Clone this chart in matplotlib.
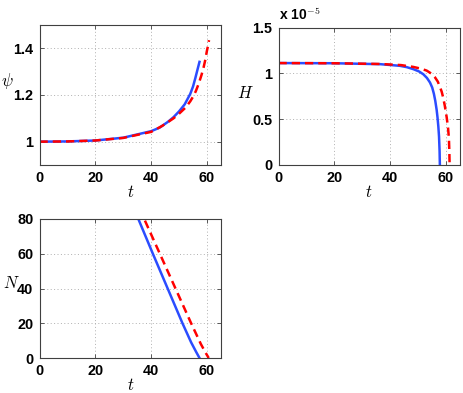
import matplotlib
matplotlib.use("Agg")
import matplotlib.pyplot as plt

plt.rcParams["mathtext.fontset"] = "cm"
plt.rcParams["font.family"] = ["Liberation Sans", "DejaVu Sans"]

# psi(t)
t_psi_blue = [0, 10, 20, 30, 40, 43, 46, 48, 50, 52, 54, 55, 55.8, 56.5, 57.3]
psi_blue = [1.0, 1.001, 1.005, 1.017, 1.045, 1.06, 1.085, 1.105, 1.13, 1.16, 1.205, 1.237, 1.272, 1.305, 1.342]
t_psi_red = [0, 10, 20, 30, 40, 44, 48, 50, 52.3, 54, 55.2, 56, 57, 58, 58.8, 59.4, 59.9, 60.5, 60.7]
psi_red = [1.0, 1.001, 1.005, 1.016, 1.042, 1.068, 1.1, 1.12, 1.146, 1.173, 1.197, 1.217, 1.248, 1.285, 1.32, 1.352, 1.386, 1.42, 1.435]

# H(t), in units of 1e-5
t_H_blue = [0, 20, 36.5, 43.6, 46, 48.4, 50.5, 52, 53.3, 54.4, 55.2, 55.8, 56.3, 56.8, 57.1, 57.4, 57.65, 57.85, 57.95]
H_blue = [1.112, 1.11, 1.1, 1.082, 1.068, 1.046, 1.02, 0.99, 0.95, 0.9, 0.845, 0.777, 0.7, 0.6, 0.52, 0.42, 0.31, 0.15, 0.0]
t_H_red = [0, 20, 36.5, 44, 48.4, 51, 53.2, 55, 56.2, 57.2, 58, 58.6, 59.1, 59.7, 60.4, 60.9, 61.2, 61.35, 61.45]
H_red = [1.112, 1.11, 1.102, 1.09, 1.07, 1.052, 1.03, 0.995, 0.956, 0.91, 0.85, 0.8, 0.74, 0.65, 0.52, 0.4, 0.29, 0.15, 0.0]

# N(t)
t_N_blue = [32, 35.4, 40.6, 45.9, 51.2, 54.3, 56.1, 57.3]
N_blue = [93, 80, 60, 40, 20, 9, 3.5, 0]
t_N_red = [33.9, 37.5, 43.1, 48.7, 54.3, 57.8, 59.5, 60.6]
N_red = [93, 80, 60, 40, 20, 8, 3, 0]

fig = plt.figure(figsize=(4.63, 3.93), dpi=100)
W, Hh = 463.0, 393.0

def make_ax(x0, y0, x1, y1):
    return fig.add_axes([x0 / W, 1 - y1 / Hh, (x1 - x0) / W, (y1 - y0) / Hh])

ax1 = make_ax(39.5, 25, 221, 165)
ax2 = make_ax(278.5, 27.5, 459.5, 165)
ax3 = make_ax(39.5, 219, 221, 358)

blue = "#2b4cff"
red = "#ff0000"
dash = (0, (3.3, 2.0))

ax1.plot(t_psi_blue, psi_blue, color=blue, lw=1.8)
ax1.plot(t_psi_red, psi_red, color=red, lw=1.8, ls=dash)
ax1.set_ylim(0.9, 1.5)
ax1.set_yticks([1, 1.2, 1.4])
ax1.set_yticklabels(["1", "1.2", "1.4"])
ax1.set_ylabel(r"$\psi$", rotation=0, fontsize=12, ha="center", va="center")
ax1.yaxis.set_label_coords(-0.175, 0.6)

ax2.plot(t_H_blue, H_blue, color=blue, lw=1.8)
ax2.plot(t_H_red, H_red, color=red, lw=1.8, ls=dash)
ax2.set_ylim(0, 1.5)
ax2.set_yticks([0, 0.5, 1, 1.5])
ax2.set_yticklabels(["0", "0.5", "1", "1.5"])
ax2.set_ylabel(r"$H$", rotation=0, fontsize=12, ha="center", va="center")
ax2.yaxis.set_label_coords(-0.184, 0.527)
fig.text(279 / W, 1 - 20 / Hh, r"x 10$^{\mathbf{-5}}$", fontsize=10, fontweight="bold",
         ha="left", va="baseline")

ax3.plot(t_N_blue, N_blue, color=blue, lw=1.8)
ax3.plot(t_N_red, N_red, color=red, lw=1.8, ls=dash)
ax3.set_ylim(0, 80)
ax3.set_yticks([0, 20, 40, 60, 80])
ax3.set_ylabel(r"$N$", rotation=0, fontsize=12, ha="center", va="center")
ax3.yaxis.set_label_coords(-0.155, 0.54)

for ax, xl_y in ((ax1, -0.193), (ax2, -0.195), (ax3, -0.195)):
    ax.set_xlim(0, 65)
    ax.set_xticks([0, 20, 40, 60])
    ax.set_xlabel(r"$t$", fontsize=12, ha="center", va="center")
    ax.xaxis.set_label_coords(0.5, xl_y)
    ax.grid(True, color="#b0b0b0", linestyle=(0, (1, 2.5)), linewidth=0.7)
    ax.tick_params(direction="in", length=3, width=0.6, top=True, right=True,
                   labelsize=10.4, pad=4.5, color="#404040")
    for lab in ax.get_xticklabels() + ax.get_yticklabels():
        lab.set_fontweight("bold")
    for s in ax.spines.values():
        s.set_color("#404040")
        s.set_linewidth(0.8)

fig.savefig("out.png", dpi=100)
